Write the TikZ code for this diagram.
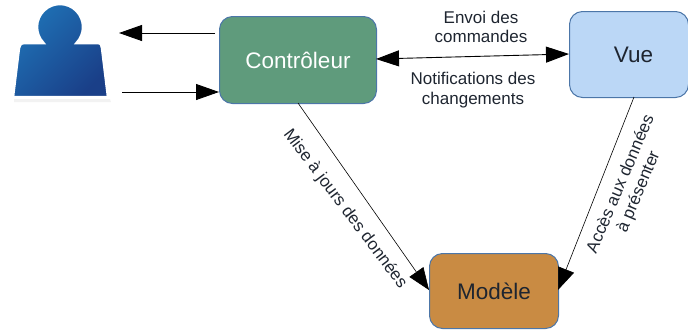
\documentclass[tikz,border=0pt]{standalone}
\usepackage{fontspec}
\setmainfont{Liberation Sans}
\usetikzlibrary{arrows.meta}
\definecolor{ctrl}{HTML}{5F9B7C}
\definecolor{vue}{HTML}{BBD7F6}
\definecolor{mod}{HTML}{C98B43}
\definecolor{edge}{HTML}{4C76A8}
\definecolor{txt}{HTML}{1E2530}
\definecolor{persA}{HTML}{1F72B6}
\definecolor{persB}{HTML}{1A3F88}
\tikzset{
  box/.style={draw=edge,line width=1pt,rounded corners=13pt,inner sep=0pt,anchor=north west,font=\fontsize{22.5}{26}\selectfont},
  arrowline/.style={draw=black,line width=0.9pt,-{Triangle[length=23pt,width=16pt]}},
  twoway/.style={draw=black,line width=0.9pt,{Triangle[length=23pt,width=16pt]}-{Triangle[length=23pt,width=16pt]}},
  thinline/.style={draw=black,line width=0.6pt,-{Triangle[length=22pt,width=17pt]}},
  lab/.style={font=\fontsize{17}{19.5}\selectfont,text=txt,align=center,inner sep=0pt},
  person/.style={left color=persA,right color=persB,shading angle=45}
}
\begin{document}
\begin{tikzpicture}[x=1pt,y=-1pt]
\useasboundingbox (0,0) rectangle (688,330);
\path[fill=black!5] (14,99) -- (110,99) -- (111,102) -- (14,102) -- cycle;
\path[draw=white,line width=2.5pt,person] (25,43) -- (43.5,43) arc[start angle=135.9,end angle=404.1,radius=23] -- (97,43)
  .. controls (101,43) and (102,45) .. (102,48) -- (108,97) -- (13,97) -- (19,48)
  .. controls (19,45) and (21,43) .. (25,43) -- cycle;
\node[box,fill=ctrl,minimum width=157pt,minimum height=87pt,text=white] (C) at (219,16) {Contrôleur};
\node[box,fill=vue,minimum width=119pt,minimum height=86pt,text=txt,text width=119pt,align=center] (V) at (569,11) {\hspace*{9pt}Vue};
\node[box,fill=mod,minimum width=129pt,minimum height=75pt,text=txt] (M) at (429,253) {Modèle};
\coordinate (ptop) at (119,33);
\coordinate (ctop) at (215,33);
\coordinate (pbot) at (122,92);
\coordinate (cbot) at (219,92);
\coordinate (cr) at (376,59);
\coordinate (vl) at (569,54);
\coordinate (cb) at (298,103);
\coordinate (ml) at (429,290);
\coordinate (vb) at (634,97);
\coordinate (mr) at (558,290);
\draw[arrowline] (ctop) -- (ptop);
\draw[arrowline] (pbot) -- (cbot);
\draw[twoway] (cr) -- (vl);
\draw[thinline] (cb) -- (ml);
\draw[thinline] (vb) -- (mr);
\node[lab] (l1) at (481,27) {Envoi des\\commandes};
\node[lab] (l2) at (473,90) {Notifications des\\changements};
\node[lab,rotate=-53] (l3) at (345,209) {Mise à jours des données};
\node[lab,rotate=67] (l4) at (630,188) {Accès aux données\\à présenter};
\end{tikzpicture}
\end{document}
